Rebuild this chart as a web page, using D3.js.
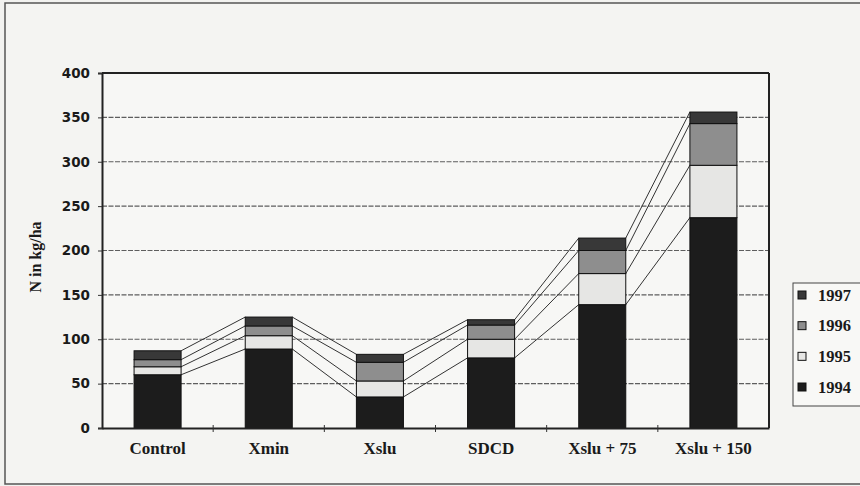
<!DOCTYPE html>
<html><head><meta charset="utf-8">
<script src="https://cdn.jsdelivr.net/npm/d3@7"></script>
<style>
html,body{margin:0;padding:0;background:#f2f2f0;}
svg{display:block;}
</style></head>
<body>
<svg id="chart" width="860" height="486"></svg>
<script>
// ---- data ----
const categories = ["Control", "Xmin", "Xslu", "SDCD", "Xslu + 75", "Xslu + 150"];
const years = ["1994", "1995", "1996", "1997"];
const values1994 = [60, 89, 35, 79, 139, 237];
const values1995 = [9, 15, 18, 21, 35, 59];
const values1996 = [8, 11, 21, 16, 26, 47];
const values1997 = [10, 10, 9, 6, 14, 13];
const yTicks = [0, 50, 100, 150, 200, 250, 300, 350, 400];
const yTitle = "N in kg/ha";

const seriesValues = [values1994, values1995, values1996, values1997];
const colors = {"1994": "#1c1c1c", "1995": "#e6e6e4", "1996": "#8e8e8e", "1997": "#383838"};

const rows = categories.map((c, i) => {
  const r = {cat: c};
  years.forEach((y, k) => r[y] = seriesValues[k][i]);
  return r;
});
const stacked = d3.stack().keys(years)(rows);

const svg = d3.select("#chart");
const M = {left: 102, right: 769, top: 73, bottom: 428};

// outer frame
svg.append("rect").attr("x", 5).attr("y", 3).attr("width", 900).attr("height", 481)
  .attr("fill", "#f4f4f2").attr("stroke", "#555").attr("stroke-width", 1.5);

const x = d3.scaleBand().domain(categories).range([M.left, M.right])
  .paddingInner(0.577).paddingOuter(0.2885);
const xEdge = d3.scaleBand().domain(categories).range([M.left, M.right]).padding(0);
const y = d3.scaleLinear().domain([0, 400]).range([M.bottom, M.top]);

// plot background
svg.append("rect").attr("x", M.left).attr("y", M.top)
  .attr("width", M.right - M.left).attr("height", M.bottom - M.top)
  .attr("fill", "#f7f7f5");

// gridlines
svg.append("g").selectAll("line").data(yTicks.filter(t => t > 0 && t < 400)).join("line")
  .attr("x1", M.left).attr("x2", M.right)
  .attr("y1", d => y(d)).attr("y2", d => y(d))
  .attr("stroke", "#5e5e5e").attr("stroke-width", 1.1).attr("stroke-dasharray", "5,1.5");

// plot border top/right
svg.append("line").attr("x1", M.left).attr("x2", M.right).attr("y1", M.top).attr("y2", M.top)
  .attr("stroke", "#222").attr("stroke-width", 2);
svg.append("line").attr("x1", M.right).attr("x2", M.right).attr("y1", M.top).attr("y2", M.bottom)
  .attr("stroke", "#222").attr("stroke-width", 2);

// connecting lines between bars
const lineG = svg.append("g");
stacked.forEach(layer => {
  for (let i = 0; i < categories.length - 1; i++) {
    lineG.append("line")
      .attr("x1", x(categories[i]) + x.bandwidth())
      .attr("y1", y(layer[i][1]))
      .attr("x2", x(categories[i + 1]))
      .attr("y2", y(layer[i + 1][1]))
      .attr("stroke", "#333").attr("stroke-width", 1);
  }
});

// bars
svg.append("g").selectAll("g").data(stacked).join("g")
  .attr("fill", d => colors[d.key])
  .selectAll("rect").data(d => d).join("rect")
  .attr("x", d => x(d.data.cat))
  .attr("width", x.bandwidth())
  .attr("y", d => y(d[1]))
  .attr("height", d => y(d[0]) - y(d[1]))
  .attr("stroke", "#111").attr("stroke-width", 1);

// y axis
const yAxis = svg.append("g").attr("transform", `translate(${M.left},0)`)
  .call(d3.axisLeft(y).tickValues(yTicks).tickSize(4).tickPadding(8));
yAxis.select(".domain").attr("stroke", "#222").attr("stroke-width", 2);
yAxis.selectAll(".tick line").attr("stroke", "#333");
yAxis.selectAll(".tick text")
  .attr("font-family", "DejaVu Sans").attr("font-weight", "bold")
  .attr("font-size", 13.5).attr("fill", "#1a1a1a");

// x axis
const xAxis = svg.append("g").attr("transform", `translate(0,${M.bottom})`)
  .call(d3.axisBottom(x).tickSize(0).tickPadding(14));
xAxis.select(".domain").attr("stroke", "#222").attr("stroke-width", 2);
xAxis.selectAll(".tick text")
  .attr("font-family", "Liberation Serif").attr("font-weight", "bold")
  .attr("font-size", 17).attr("fill", "#1a1a1a");
// boundary tick marks
svg.append("g").selectAll("line").data(categories.slice(1)).join("line")
  .attr("x1", d => xEdge(d)).attr("x2", d => xEdge(d))
  .attr("y1", M.bottom - 3).attr("y2", M.bottom + 4)
  .attr("stroke", "#333").attr("stroke-width", 1);

// y title
svg.append("text")
  .attr("transform", "translate(41,257) rotate(-90)")
  .attr("text-anchor", "middle")
  .attr("font-family", "Liberation Serif").attr("font-weight", "bold")
  .attr("font-size", 16).attr("fill", "#1a1a1a")
  .text(yTitle);

// legend
const legendYears = years.slice().reverse();
const lg = svg.append("g");
lg.append("rect").attr("x", 793).attr("y", 283).attr("width", 70).attr("height", 123)
  .attr("fill", "#f8f8f6").attr("stroke", "#444").attr("stroke-width", 1);
const ly = d3.scalePoint().domain(legendYears).range([295, 387]);
const items = lg.selectAll("g.item").data(legendYears).join("g").attr("class", "item");
items.append("rect").attr("x", 798).attr("y", d => ly(d) - 4).attr("width", 8).attr("height", 8)
  .attr("fill", d => colors[d]).attr("stroke", "#111").attr("stroke-width", 1);
items.append("text").attr("x", 818).attr("y", d => ly(d)).attr("dy", "0.35em")
  .attr("font-family", "Liberation Serif").attr("font-weight", "bold")
  .attr("font-size", 16.5).attr("fill", "#1a1a1a")
  .text(d => d);
</script>
</body></html>
